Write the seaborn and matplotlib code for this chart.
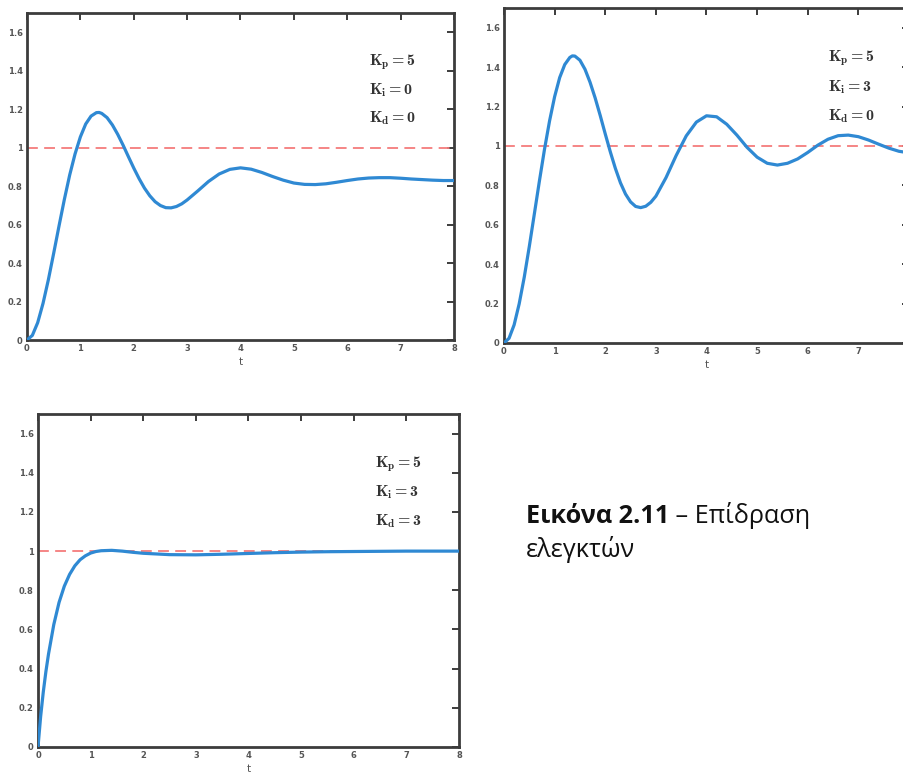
import matplotlib
matplotlib.use("Agg")
import matplotlib.pyplot as plt
from matplotlib.text import Annotation
import pandas as pd
import seaborn as sns

# ---------------- data ----------------
t_main = [0.0, 0.1, 0.2, 0.3, 0.4, 0.5, 0.6, 0.7, 0.8, 0.9, 1.0,
          1.1, 1.2, 1.3, 1.35, 1.4, 1.5, 1.6, 1.7, 1.8, 1.9, 2.0,
          2.1, 2.2, 2.3, 2.4, 2.5, 2.6, 2.7, 2.8, 2.9, 3.0,
          3.2, 3.4, 3.6, 3.8, 4.0, 4.2, 4.4, 4.6, 4.8, 5.0,
          5.2, 5.4, 5.6, 5.8, 6.0, 6.2, 6.4, 6.6, 6.8, 7.0,
          7.2, 7.4, 7.6, 7.8, 8.0]

# Kp=5, Ki=0, Kd=0
y_p = [0.000, 0.024, 0.090, 0.190, 0.313, 0.451, 0.593, 0.731, 0.858, 0.967, 1.056,
       1.123, 1.164, 1.182, 1.183, 1.178, 1.156, 1.118, 1.069, 1.013, 0.953, 0.894,
       0.839, 0.790, 0.750, 0.719, 0.699, 0.688, 0.687, 0.694, 0.708, 0.728,
       0.775, 0.824, 0.863, 0.887, 0.895, 0.888, 0.871, 0.850, 0.831, 0.816,
       0.809, 0.808, 0.812, 0.820, 0.829, 0.837, 0.842, 0.844, 0.844, 0.841,
       0.837, 0.834, 0.831, 0.829, 0.829]

# Kp=5, Ki=3, Kd=0
y_pi = [0.000, 0.024, 0.092, 0.199, 0.334, 0.490, 0.656, 0.823, 0.983, 1.127, 1.250,
        1.347, 1.413, 1.449, 1.457, 1.456, 1.435, 1.389, 1.323, 1.244, 1.155, 1.061,
        0.970, 0.886, 0.813, 0.756, 0.716, 0.693, 0.687, 0.694, 0.714, 0.745,
        0.839, 0.951, 1.051, 1.121, 1.153, 1.148, 1.110, 1.055, 0.993, 0.943,
        0.912, 0.903, 0.912, 0.934, 0.967, 1.004, 1.034, 1.052, 1.055, 1.047,
        1.030, 1.009, 0.989, 0.973, 0.965]

# Kp=5, Ki=3, Kd=3
t_pid = [0.0, 0.05, 0.1, 0.15, 0.2, 0.3, 0.4, 0.5, 0.6, 0.7, 0.8, 0.9, 1.0,
         1.1, 1.2, 1.4, 1.6, 1.8, 2.0, 2.5, 3.0, 3.5, 4.0, 4.5, 5.0, 5.5,
         6.0, 7.0, 8.0]
y_pid = [0.000, 0.155, 0.280, 0.385, 0.475, 0.625, 0.738, 0.821, 0.881, 0.925,
         0.956, 0.976, 0.990, 0.998, 1.002, 1.004, 1.000, 0.994, 0.989, 0.982,
         0.981, 0.984, 0.988, 0.992, 0.995, 0.997, 0.998, 1.000, 1.000]

setpoint = 1.0
gain_labels = [
    [r"$K_p = 5$", r"$K_i = 0$", r"$K_d = 0$"],
    [r"$K_p = 5$", r"$K_i = 3$", r"$K_d = 0$"],
    [r"$K_p = 5$", r"$K_i = 3$", r"$K_d = 3$"],
]
label_y = [1.43, 1.28, 1.13]
xticks = [0, 1, 2, 3, 4, 5, 6, 7, 8]
yticks = [0, 0.2, 0.4, 0.6, 0.8, 1.0, 1.2, 1.4, 1.6]
ytick_labels = ["0", "0.2", "0.4", "0.6", "0.8", "1", "1.2", "1.4", "1.6"]
x_label = "t"
caption_bold = "Εικόνα 2.11"
caption_rest = " – Επίδραση"
caption_line2 = "ελεγκτών"

# ---------------- style ----------------
sns.set_theme(style="white")
plt.rcParams["font.family"] = ["DejaVu Sans"]
# bold Computer Modern for the gain annotations (LaTeX \mathbf look)
plt.rcParams["mathtext.fontset"] = "custom"
plt.rcParams["mathtext.rm"] = "cmb10"
plt.rcParams["mathtext.it"] = "cmb10"
plt.rcParams["mathtext.bf"] = "cmb10"

BLUE = "#2f89d3"
RED = "#f47c7c"
SPINE = "#3c3c3c"
TXT = "#333333"

fig = plt.figure(figsize=(9.04, 7.73), dpi=100)
W, H = 904.0, 773.0


def px_axes(left, top, right, bottom):
    return fig.add_axes([left / W, 1 - bottom / H, (right - left) / W, (bottom - top) / H])


panels = [
    (px_axes(27, 13, 454, 340), t_main, y_p, True),
    (px_axes(504, 8, 909, 343), t_main, y_pi, False),
    (px_axes(38, 414, 459, 747), t_pid, y_pid, True),
]

for i, (ax, tt, yy, show_last) in enumerate(panels):
    ax.set_facecolor("white")
    ax.axhline(setpoint, color=RED, lw=1.3, ls=(0, (6, 3.5)), zorder=1)
    df = pd.DataFrame({"t": tt, "y": yy})
    sns.lineplot(data=df, x="t", y="y", ax=ax, color=BLUE, linewidth=2.3,
                 zorder=3, estimator=None, sort=False)
    ax.set_xlim(0, 8)
    ax.set_ylim(0, 1.7)
    ax.set_xticks(xticks)
    xl = [str(v) for v in xticks]
    if not show_last:
        xl[-1] = ""
    ax.set_xticklabels(xl)
    ax.set_yticks(yticks)
    ax.set_yticklabels(ytick_labels)
    ax.tick_params(direction="in", top=True, right=True, length=5, width=1.4,
                   color=SPINE, labelsize=6, labelcolor="#555555", pad=3)
    for lab in ax.get_xticklabels() + ax.get_yticklabels():
        lab.set_fontweight("bold")
    for sp in ax.spines.values():
        sp.set_visible(True)
        sp.set_color(SPINE)
        sp.set_linewidth(2.0)
    ax.set_ylabel("")
    ax.set_xlabel(x_label, fontsize=7.5, color="#555555", labelpad=3)
    for lab, yv in zip(gain_labels[i], label_y):
        ax.text(6.4, yv, lab, fontsize=11.5, color=TXT, ha="left", va="baseline")

# caption
cap_font = ["Open Sans", "DejaVu Sans"]
cap_size = 18.2
t1 = fig.text(526 / W, 1 - 523 / H, caption_bold, fontsize=cap_size, fontweight="bold",
              family=cap_font, color="#111111", ha="left", va="baseline")
ann = Annotation(caption_rest, xy=(1, 0), xycoords=t1, xytext=(0, 0),
                 textcoords="offset points", fontsize=cap_size, family=cap_font,
                 color="#111111", ha="left", va="bottom")
fig.add_artist(ann)
fig.text(526 / W, 1 - 557 / H, caption_line2, fontsize=cap_size, family=cap_font,
         color="#111111", ha="left", va="baseline")

fig.savefig("out.png", dpi=100)
